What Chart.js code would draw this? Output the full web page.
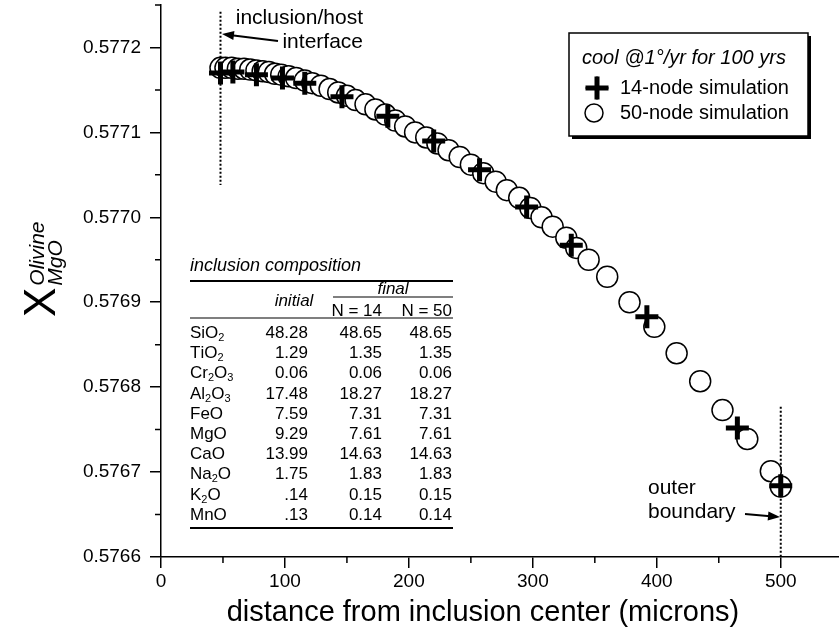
<!DOCTYPE html>
<html>
<head>
<meta charset="utf-8">
<script src="https://cdn.jsdelivr.net/npm/chart.js@4.4.1/dist/chart.umd.min.js"></script>
<style>
  html, body { margin: 0; padding: 0; background: #fff; }
  #wrap { width: 839px; height: 641px; }
</style>
</head>
<body>
<div id="wrap"><canvas id="chart" width="839" height="641"></canvas></div>
<script>
(function() {

    var FONT = "'Liberation Sans', Arial, Helvetica, sans-serif";

    // 14-node simulation (crosses)
    var node14X = [48, 58, 77, 98, 116, 146, 183, 220, 257, 295, 331, 392, 465, 500];
    var node14Y = [0.577170, 0.577171, 0.577168, 0.577164, 0.577158, 0.577142, 0.577119,
                   0.577090, 0.577056, 0.577012, 0.576967, 0.576883, 0.576752, 0.576684];

    // 50-node simulation (open circles)
    var node50X = [48, 52, 57, 62, 67, 72, 77, 82, 87, 92,
                   97, 103, 109, 116, 122, 129, 136, 143, 150, 157,
                   165, 173, 181, 189, 197, 205, 214, 223, 232, 241,
                   250, 260, 270, 279, 289, 298, 307, 316, 327, 335,
                   345, 360, 378, 398, 416, 435, 453, 473, 492, 500];
    var node50Y = [0.577176, 0.577176, 0.577176, 0.577175, 0.577175, 0.577174, 0.577173, 0.577172, 0.577171, 0.577169,
                   0.577168, 0.577166, 0.577164, 0.577161, 0.577158, 0.577155, 0.577151, 0.577147, 0.577143, 0.577138,
                   0.577133, 0.577127, 0.577121, 0.577114, 0.577107, 0.577100, 0.577094, 0.577087, 0.577079, 0.577071,
                   0.577062, 0.577052, 0.577042, 0.577032, 0.577023, 0.577011, 0.577000, 0.576989, 0.576976, 0.576964,
                   0.576950, 0.576930, 0.576900, 0.576871, 0.576840, 0.576807, 0.576773, 0.576739, 0.576701, 0.576683];

    // axes
    var xMinorTicks = [50, 150, 250, 350, 450];
    var yMinorTicks = [0.57665, 0.57675, 0.57685, 0.57695, 0.57705, 0.57715, 0.57725];

    // inset table
    var oxides = ['SiO2', 'TiO2', 'Cr2O3', 'Al2O3', 'FeO', 'MgO', 'CaO', 'Na2O', 'K2O', 'MnO'];
    var initialComp = ['48.28', '1.29', '0.06', '17.48', '7.59', '9.29', '13.99', '1.75', '.14', '.13'];
    var finalN14 = ['48.65', '1.35', '0.06', '18.27', '7.31', '7.61', '14.63', '1.83', '0.15', '0.14'];
    var finalN50 = ['48.65', '1.35', '0.06', '18.27', '7.31', '7.61', '14.63', '1.83', '0.15', '0.14'];

    function pts(xs, ys) {
        return xs.map(function(x, i) { return { x: x, y: ys[i] }; });
    }

    function arrow(ctx, x1, y1, x2, y2) {
        var a = Math.atan2(y2 - y1, x2 - x1);
        var len = 12, hw = 4.5;
        ctx.beginPath();
        ctx.moveTo(x1, y1);
        ctx.lineTo(x2 - Math.cos(a) * len * 0.8, y2 - Math.sin(a) * len * 0.8);
        ctx.stroke();
        ctx.beginPath();
        ctx.moveTo(x2, y2);
        ctx.lineTo(x2 - Math.cos(a) * len - Math.sin(a) * hw, y2 - Math.sin(a) * len + Math.cos(a) * hw);
        ctx.lineTo(x2 - Math.cos(a) * len + Math.sin(a) * hw, y2 - Math.sin(a) * len - Math.cos(a) * hw);
        ctx.closePath();
        ctx.fill();
    }

    // formula with subscript digits
    function chem(ctx, s, x, y, size) {
        var cx = x;
        for (var i = 0; i < s.length; i++) {
            var c = s[i];
            if (/[0-9]/.test(c)) {
                ctx.font = Math.round(size * 0.62) + 'px ' + FONT;
                ctx.fillText(c, cx, y + size * 0.28);
            } else {
                ctx.font = size + 'px ' + FONT;
                ctx.fillText(c, cx, y);
            }
            cx += ctx.measureText(c).width;
        }
    }

    var decor = {
        id: 'decor',
        beforeDatasetsDraw: function(chart) {
            var ctx = chart.ctx, xs = chart.scales.x, ys = chart.scales.y;
            ctx.save();
            ctx.strokeStyle = '#000';
            ctx.lineWidth = 2;
            ctx.setLineDash([2, 2]);
            ctx.beginPath();
            ctx.moveTo(xs.getPixelForValue(48), ys.getPixelForValue(0.577242));
            ctx.lineTo(xs.getPixelForValue(48), ys.getPixelForValue(0.577038));
            ctx.moveTo(xs.getPixelForValue(500), ys.getPixelForValue(0.576777));
            ctx.lineTo(xs.getPixelForValue(500), ys.getPixelForValue(0.5766));
            ctx.stroke();
            ctx.restore();
        },
        afterDraw: function(chart) {
            var ctx = chart.ctx, xs = chart.scales.x, ys = chart.scales.y;
            var area = chart.chartArea;
            ctx.save();
            ctx.strokeStyle = '#000';
            ctx.fillStyle = '#000';

            // minor ticks
            ctx.lineWidth = 1.5;
            ctx.beginPath();
            xMinorTicks.forEach(function(v) {
                var p = xs.getPixelForValue(v);
                ctx.moveTo(p, area.bottom);
                ctx.lineTo(p, area.bottom + 6);
            });
            yMinorTicks.forEach(function(v) {
                var p = ys.getPixelForValue(v);
                ctx.moveTo(area.left, p);
                ctx.lineTo(area.left - 6, p);
            });
            ctx.stroke();

            // axis titles
            ctx.textBaseline = 'middle';
            ctx.textAlign = 'center';
            ctx.font = '29px ' + FONT;
            ctx.fillText('distance from inclusion center (microns)', 483, 613);

            ctx.save();
            ctx.translate(55, 317);
            ctx.rotate(-Math.PI / 2);
            ctx.textAlign = 'left';
            ctx.textBaseline = 'alphabetic';
            ctx.font = '44px ' + FONT;
            ctx.fillText('X', 0, 0);
            var xw = ctx.measureText('X').width;
            ctx.font = 'italic 21px ' + FONT;
            ctx.fillText('Olivine', xw + 2, -11);
            ctx.fillText('MgO', xw + 2, 7);
            ctx.restore();

            // annotations
            ctx.font = '21px ' + FONT;
            ctx.textAlign = 'right';
            ctx.fillText('inclusion/host', 363, 18);
            ctx.fillText('interface', 363, 42);
            ctx.textAlign = 'left';
            ctx.fillText('outer', 648, 488);
            ctx.fillText('boundary', 648, 512);
            ctx.lineWidth = 2;
            arrow(ctx, 278, 41, 222, 34);
            arrow(ctx, 745, 514, 780, 517);

            // legend box
            ctx.fillRect(572, 36, 239, 103);
            ctx.fillStyle = '#fff';
            ctx.fillRect(569, 33, 239, 103);
            ctx.fillStyle = '#000';
            ctx.lineWidth = 1.5;
            ctx.strokeRect(569, 33, 239, 103);
            ctx.font = 'italic 20px ' + FONT;
            ctx.fillText('cool @1\u00b0/yr for 100 yrs', 582, 58);
            ctx.font = '20px ' + FONT;
            ctx.fillText(chart.data.datasets[0].label, 620, 88);
            ctx.fillText(chart.data.datasets[1].label, 620, 113);
            Chart.helpers.drawPoint(ctx, { pointStyle: 'cross', radius: 11.5, borderWidth: 5, rotation: 0 }, 597, 88);
            ctx.lineWidth = 5;
            ctx.stroke();
            ctx.beginPath();
            ctx.lineWidth = 1.5;
            ctx.fillStyle = '#fff';
            ctx.arc(594, 113, 9, 0, Math.PI * 2);
            ctx.fill();
            ctx.stroke();
            ctx.fillStyle = '#000';

            // inset table
            var L = 190, R = 453;
            ctx.font = 'italic 18px ' + FONT;
            ctx.textAlign = 'left';
            ctx.fillText('inclusion composition', L, 266);
            ctx.lineWidth = 2;
            ctx.beginPath();
            ctx.moveTo(L, 281); ctx.lineTo(R, 281);
            ctx.stroke();
            ctx.font = 'italic 17px ' + FONT;
            ctx.textAlign = 'center';
            ctx.fillText('final', 393, 289);
            ctx.fillText('initial', 294, 301);
            ctx.lineWidth = 1.2;
            ctx.beginPath();
            ctx.moveTo(333, 297); ctx.lineTo(R, 297);
            ctx.moveTo(L, 318); ctx.lineTo(R, 318);
            ctx.stroke();
            ctx.font = '17px ' + FONT;
            ctx.textAlign = 'right';
            ctx.fillText('N = 14', 382, 311);
            ctx.fillText('N = 50', 452, 311);
            for (var i = 0; i < oxides.length; i++) {
                var y = 333.3 + i * 20.2;
                ctx.textAlign = 'left';
                chem(ctx, oxides[i], L, y, 17);
                ctx.font = '17px ' + FONT;
                ctx.textAlign = 'right';
                ctx.fillText(initialComp[i], 308, y);
                ctx.fillText(finalN14[i], 382, y);
                ctx.fillText(finalN50[i], 452, y);
            }
            ctx.lineWidth = 2;
            ctx.beginPath();
            ctx.moveTo(L, 528); ctx.lineTo(R, 528);
            ctx.stroke();

            ctx.restore();
        }
    };

    Chart.defaults.font.family = FONT;
    Chart.defaults.color = '#000';

    var chart = new Chart(document.getElementById('chart').getContext('2d'), {
        type: 'scatter',
        data: {
            datasets: [{
                label: '14-node simulation',
                data: pts(node14X, node14Y),
                pointStyle: 'cross',
                pointRadius: 11.5,
                pointHoverRadius: 11.5,
                borderWidth: 5,
                pointBorderWidth: 5,
                borderColor: '#000',
                backgroundColor: '#000'
            }, {
                label: '50-node simulation',
                data: pts(node50X, node50Y),
                pointStyle: 'circle',
                pointRadius: 10.5,
                pointHoverRadius: 10.5,
                borderWidth: 1.5,
                pointBorderWidth: 1.5,
                borderColor: '#000',
                backgroundColor: '#fff'
            }]
        },
        options: {
            responsive: false,
            animation: false,
            devicePixelRatio: 1,
            layout: { autoPadding: false, padding: { top: 5, right: 0, bottom: 0, left: 0 } },
            plugins: {
                legend: { display: false },
                tooltip: { enabled: false }
            },
            scales: {
                x: {
                    type: 'linear',
                    min: 0,
                    max: 547,
                    afterFit: function(s) { s.height = 84; s.paddingLeft = 0; s.paddingRight = 0; },
                    border: { color: '#000', width: 1.5 },
                    grid: { drawOnChartArea: false, tickLength: 11, lineWidth: 1.5, color: '#000' },
                    ticks: {
                        stepSize: 100,
                        includeBounds: false,
                        maxRotation: 0,
                        padding: 2,
                        color: '#000',
                        font: { size: 19 }
                    }
                },
                y: {
                    type: 'linear',
                    min: 0.5766,
                    max: 0.57725,
                    afterFit: function(s) { s.width = 161; s.paddingTop = 0; s.paddingBottom = 0; },
                    border: { color: '#000', width: 1.5 },
                    grid: { drawOnChartArea: false, tickLength: 11, lineWidth: 1.5, color: '#000' },
                    ticks: {
                        stepSize: 0.0001,
                        includeBounds: false,
                        padding: 9,
                        color: '#000',
                        font: { size: 19 },
                        callback: function(v) { return v.toFixed(4); }
                    }
                }
            }
        },
        plugins: [decor]
    });

})();
</script>
</body>
</html>
